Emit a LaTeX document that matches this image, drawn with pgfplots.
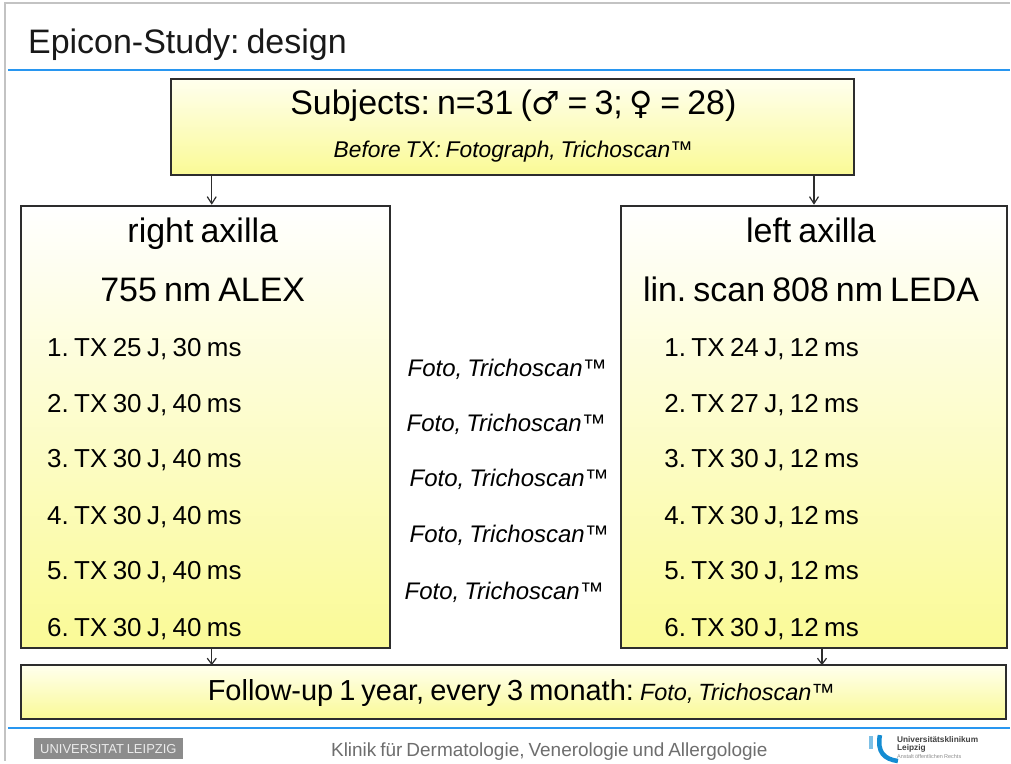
\documentclass[border=0pt]{standalone}
\usepackage{pgfplots}
\pgfplotsset{compat=1.18}
\usepackage{fontspec}
\setmainfont{Liberation Sans}[WordSpace=0.75]
\newfontfamily\sym{DejaVu Sans}
\usetikzlibrary{arrows.meta}
\definecolor{boxyel}{RGB}{250,250,150}
\definecolor{boxtop}{RGB}{255,255,238}
\definecolor{slideblue}{RGB}{40,150,240}
\definecolor{bordergray}{RGB}{195,195,195}
\definecolor{linegray}{RGB}{45,45,45}
\definecolor{footgray}{RGB}{110,110,110}
\definecolor{logoblue}{RGB}{20,140,210}
\newcommand{\fs}[1]{\fontsize{#1}{#1}\selectfont}
\frenchspacing
\begin{document}
\frenchspacing
\begin{tikzpicture}
\begin{axis}[
  width=1011pt, height=762pt, scale only axis,
  xmin=0, xmax=1011, ymin=0, ymax=762, y dir=reverse,
  hide axis, clip=false,
  every node/.append style={execute at begin node=\frenchspacing},
]
\addplot[draw=none] coordinates {(0,0) (1011,762)};
% background
\fill[white] (axis cs:0,0) rectangle (axis cs:1011,762);
% slide border
\draw[bordergray, line width=2.5pt] (axis cs:5,762) -- (axis cs:5,3) -- (axis cs:1011,3);
% blue rules
\draw[slideblue, line width=2pt] (axis cs:8,70) -- (axis cs:1011,70);
\draw[slideblue, line width=2pt] (axis cs:8,729) -- (axis cs:1011,729);
% title
\node[anchor=base west, inner sep=0pt, text=black!90] at (axis cs:28,54) {\fs{34}Epicon-Study: design};
% top box
\draw[linegray, line width=2pt, top color=boxtop, bottom color=boxyel] (axis cs:171,79) rectangle (axis cs:855,175);
\node[anchor=base, inner sep=0pt] at (axis cs:514,115) {\fs{34}Subjects: n=31 ({\sym\fs{32}♂} = 3; {\sym\fs{32}♀} = 28)};
\node[anchor=base, inner sep=0pt] at (axis cs:514,158) {\fs{22.8}\itshape Before TX: Fotograph, Trichoscan™};
% arrows from top box
\draw[linegray, line width=1.2pt, -{Straight Barb[length=7pt,width=9pt]}] (axis cs:212,175) -- (axis cs:212,205);
\draw[linegray, line width=1.2pt, -{Straight Barb[length=7pt,width=9pt]}] (axis cs:815,175) -- (axis cs:815,205);
% left box
\draw[linegray, line width=2pt, top color=white, bottom color=boxyel] (axis cs:21,206) rectangle (axis cs:390,649);
\node[anchor=base, inner sep=0pt] at (axis cs:203,243) {\fs{34}right axilla};
\node[anchor=base, inner sep=0pt] at (axis cs:203,302) {\fs{34}755 nm ALEX};
\node[anchor=base west, inner sep=0pt] at (axis cs:47,357) {\fs{26}1. TX 25 J, 30 ms};
\node[anchor=base west, inner sep=0pt] at (axis cs:47,413) {\fs{26}2. TX 30 J, 40 ms};
\node[anchor=base west, inner sep=0pt] at (axis cs:47,468) {\fs{26}3. TX 30 J, 40 ms};
\node[anchor=base west, inner sep=0pt] at (axis cs:47,525) {\fs{26}4. TX 30 J, 40 ms};
\node[anchor=base west, inner sep=0pt] at (axis cs:47,580) {\fs{26}5. TX 30 J, 40 ms};
\node[anchor=base west, inner sep=0pt] at (axis cs:47,637) {\fs{26}6. TX 30 J, 40 ms};
% right box
\draw[linegray, line width=2pt, top color=white, bottom color=boxyel] (axis cs:622,206) rectangle (axis cs:1008,649);
\node[anchor=base, inner sep=0pt] at (axis cs:812,243) {\fs{34}left axilla};
\node[anchor=base, inner sep=0pt] at (axis cs:812,302) {\fs{34}lin. scan 808 nm LEDA};
\node[anchor=base west, inner sep=0pt] at (axis cs:665,357) {\fs{26}1. TX 24 J, 12 ms};
\node[anchor=base west, inner sep=0pt] at (axis cs:665,413) {\fs{26}2. TX 27 J, 12 ms};
\node[anchor=base west, inner sep=0pt] at (axis cs:665,468) {\fs{26}3. TX 30 J, 12 ms};
\node[anchor=base west, inner sep=0pt] at (axis cs:665,525) {\fs{26}4. TX 30 J, 12 ms};
\node[anchor=base west, inner sep=0pt] at (axis cs:665,580) {\fs{26}5. TX 30 J, 12 ms};
\node[anchor=base west, inner sep=0pt] at (axis cs:665,637) {\fs{26}6. TX 30 J, 12 ms};
% middle column
\node[anchor=base west, inner sep=0pt] at (axis cs:408,377) {\fs{24}\itshape Foto, Trichoscan™};
\node[anchor=base west, inner sep=0pt] at (axis cs:407,432) {\fs{24}\itshape Foto, Trichoscan™};
\node[anchor=base west, inner sep=0pt] at (axis cs:410,487) {\fs{24}\itshape Foto, Trichoscan™};
\node[anchor=base west, inner sep=0pt] at (axis cs:410,543) {\fs{24}\itshape Foto, Trichoscan™};
\node[anchor=base west, inner sep=0pt] at (axis cs:405,600) {\fs{24}\itshape Foto, Trichoscan™};
% arrows to bottom box
\draw[linegray, line width=1.2pt, -{Straight Barb[length=6pt,width=9pt]}] (axis cs:212,649) -- (axis cs:212,666);
\draw[linegray, line width=1.2pt, -{Straight Barb[length=6pt,width=9pt]}] (axis cs:823,649) -- (axis cs:823,666);
% bottom box
\draw[linegray, line width=2pt, top color=boxtop, bottom color=boxyel] (axis cs:21,666) rectangle (axis cs:1007,720);
\node[anchor=base, inner sep=0pt] at (axis cs:522,701) {\fs{29}Follow-up 1 year, every 3 monath: {\fs{23.5}\itshape Foto, Trichoscan™}};
% footer
\fill[black!45] (axis cs:34,739) rectangle (axis cs:183,760);
\node[anchor=center, inner sep=0pt, text=white!92!black] at (axis cs:108.5,749.5) {\fs{13}UNIVERSITAT LEIPZIG};
\node[anchor=base, inner sep=0pt, text=footgray] at (axis cs:550,757) {\fs{19}Klinik für Dermatologie, Venerologie und Allergologie};
% logo
\draw[logoblue!55, line width=4pt] (axis cs:872,737) -- (axis cs:872,750);
\draw[logoblue, line width=4.5pt] (axis cs:881,736) .. controls (axis cs:878,753) and (axis cs:885,760) .. (axis cs:899,762);
\node[anchor=west, inner sep=0pt, text=black!75] at (axis cs:898,740) {\fs{8.3}\bfseries Universitätsklinikum};
\node[anchor=west, inner sep=0pt, text=black!75] at (axis cs:898,749) {\fs{8.3}\bfseries Leipzig};
\node[anchor=west, inner sep=0pt, text=black!45] at (axis cs:898,757) {\fs{5.5}Anstalt öffentlichen Rechts};
\end{axis}
\end{tikzpicture}
\end{document}
